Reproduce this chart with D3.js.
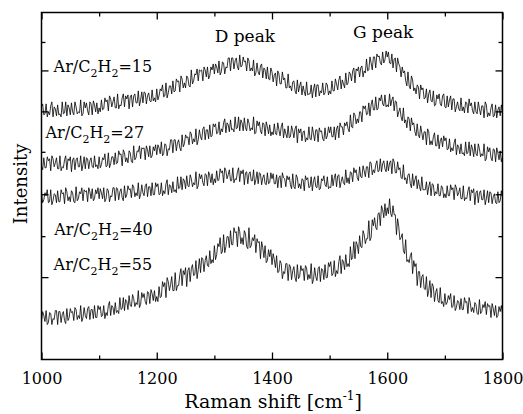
<!DOCTYPE html>
<html>
<head>
<meta charset="utf-8">
<script src="https://cdn.jsdelivr.net/npm/d3@7"></script>
<style>
  html, body { margin: 0; padding: 0; background: #fff; }
  svg { display: block; }
</style>
</head>
<body>
<svg id="chart" width="523" height="414"></svg>
<script>
// ---- data (Raman spectra, read every 2 cm^-1 from 1000 to 1800) ----
const wavenumbers = d3.range(1000, 1801, 2);

const series15 = [
  253,256,245,246,256,243,248,245,254,258,243,253,251,244,255,245,246,243,258,246,247,258,244,255,252,245,257,248,245,258,253,246,248,247,260,244,246,258,252,257,249,245,258,256,245,259,255,248,257,246,
  252,248,260,250,251,262,258,260,249,264,261,253,258,263,252,252,266,251,255,254,262,266,253,264,261,265,251,263,265,253,264,266,257,257,269,254,260,268,257,268,267,256,264,267,259,258,270,259,262,258,
  271,260,264,271,269,275,263,264,277,262,267,274,274,266,279,268,269,281,278,279,268,284,281,272,277,272,284,282,274,273,290,276,279,286,285,291,279,290,289,290,279,293,290,283,293,281,284,293,290,296,
  286,296,293,287,299,285,288,298,297,286,293,292,302,302,289,302,302,291,299,302,293,290,305,293,294,303,298,299,289,302,299,289,292,289,300,284,287,297,288,285,294,296,282,292,290,281,293,281,280,292,
  288,278,285,287,274,289,286,276,276,288,280,282,272,272,286,272,274,269,278,279,269,266,280,268,274,278,265,274,268,264,278,265,266,266,275,262,271,276,263,275,275,264,269,267,277,265,267,277,275,265,
  269,266,279,269,269,281,276,270,280,284,271,280,276,272,287,275,277,288,286,279,289,292,277,291,289,293,283,292,294,283,289,287,301,289,290,303,297,290,303,303,292,306,303,304,297,295,308,297,300,309,
  303,308,297,296,306,292,301,302,288,302,296,293,283,293,287,289,279,274,288,274,271,284,280,269,272,266,275,273,261,275,270,272,261,262,271,257,266,270,259,258,269,254,255,265,261,266,256,254,264,266,
  253,252,264,253,260,264,250,261,261,248,253,258,251,249,262,249,253,247,258,257,247,261,254,257,249,246,258,248,246,258,251,245,254,254,242,258,255,243,247,244,252,256,243,244,255,242,250,253,244,255,
  247
];
const series27 = [
  194,190,202,192,192,203,199,201,189,204,201,193,197,202,191,191,204,189,193,192,200,204,190,201,199,203,188,200,202,190,200,202,193,193,204,189,195,203,191,202,201,191,199,202,193,192,204,193,195,191,
  203,192,195,202,200,206,193,194,207,192,196,203,203,195,207,196,197,209,205,206,194,210,207,198,202,197,209,207,198,197,214,200,202,209,208,214,201,212,211,212,200,214,210,203,214,202,204,213,209,215,
  205,215,212,206,218,204,206,216,215,204,211,210,220,220,207,220,220,209,217,220,212,209,225,213,216,225,222,223,215,228,226,216,221,218,231,215,220,230,223,220,231,233,220,230,230,221,235,223,224,236,
  233,236,226,227,238,225,231,228,237,241,227,237,235,228,240,230,231,228,243,231,232,243,229,240,237,229,242,232,229,241,237,229,232,230,243,226,227,239,234,238,229,226,237,236,224,238,233,226,235,224,
  228,225,236,226,225,237,230,224,233,237,222,231,226,222,234,222,223,234,229,222,231,234,217,231,227,231,219,228,229,218,222,220,233,221,220,233,226,219,230,230,218,232,228,229,221,219,232,221,224,233,
  227,233,223,223,233,220,231,234,222,237,233,233,225,237,234,238,231,228,245,233,232,247,245,236,241,237,248,248,238,254,251,254,245,246,257,244,255,260,250,250,263,250,251,262,259,265,256,254,265,253,
  255,253,266,254,260,263,249,259,258,243,248,252,243,239,252,237,240,232,243,241,229,242,235,237,228,224,236,225,222,234,227,220,228,228,215,231,228,215,219,215,223,227,214,214,225,211,219,222,213,224,
  219,222,210,211,221,208,212,209,217,221,205,215,213,206,216,206,207,204,218,206,207,218,204,215,211,203,216,206,204,216,211,203,206,204,216,199,201,213,208,212,202,199,211,210,198,212,207,200,209,198,
  203
];
const series40 = [
  168,157,160,167,164,170,157,158,170,155,159,166,165,157,169,158,158,170,166,167,156,172,168,159,163,158,169,167,158,157,173,159,161,168,166,172,159,170,168,169,158,172,168,161,171,159,161,170,166,172,
  161,171,167,161,172,158,161,171,169,158,164,163,172,172,159,172,171,160,168,171,162,159,174,162,165,174,170,171,162,175,173,163,167,164,177,161,165,175,167,164,174,176,163,173,173,164,177,165,165,177,
  173,176,165,166,177,164,169,166,176,180,165,175,174,167,178,168,170,167,183,171,172,183,170,181,179,171,184,174,173,185,181,173,177,175,188,171,174,186,181,185,177,174,186,185,174,188,184,177,186,175,
  181,177,189,179,180,191,187,189,177,192,189,181,185,190,179,179,192,177,181,180,188,192,178,189,186,190,175,187,188,176,186,188,179,179,190,175,180,188,176,187,186,175,182,185,176,175,187,176,177,187,
  181,186,176,176,185,172,182,184,172,187,182,181,173,184,180,183,175,171,186,173,171,185,182,172,176,171,181,180,169,184,180,182,172,173,183,169,179,183,173,172,184,170,171,181,179,184,175,173,183,171,
  173,172,185,174,182,186,173,184,185,172,178,183,177,175,190,177,182,176,188,187,178,192,187,190,182,179,193,183,182,194,189,183,193,193,182,198,197,185,190,187,195,199,188,189,201,188,196,199,191,188,
  199,189,197,199,186,201,198,187,187,198,190,192,182,181,195,180,182,176,185,186,176,172,186,174,180,184,171,180,173,169,183,170,170,170,178,165,173,178,164,176,175,164,168,166,176,164,164,174,172,162,
  166,162,174,164,164,175,170,172,160,175,172,164,167,172,161,161,174,159,162,161,169,173,159,170,167,171,155,167,169,157,167,169,160,160,170,155,161,169,157,168,167,156,163,166,157,156,168,157,159,169,
  162
];
const series55 = [
  38,48,44,38,49,35,37,47,46,35,41,40,49,49,35,48,48,37,45,48,39,36,51,39,42,51,47,48,39,52,50,40,44,41,54,38,42,52,44,41,51,53,40,50,50,41,54,42,42,54,
  50,53,43,44,54,41,47,44,54,58,44,54,52,45,57,47,49,46,62,50,51,62,49,60,58,50,64,54,53,65,61,53,57,55,69,52,55,67,62,66,58,55,68,67,56,70,66,59,69,58,
  63,58,73,62,63,78,73,77,62,82,78,69,75,83,69,69,87,69,74,74,85,91,74,89,85,92,73,89,92,78,91,95,84,85,99,81,90,101,87,102,101,88,99,104,94,93,109,96,100,97,
  114,100,105,116,113,122,106,108,125,107,113,123,123,112,129,115,115,132,127,128,113,133,128,116,122,115,129,126,113,111,132,112,114,122,119,125,107,121,117,118,101,118,112,102,114,97,99,110,103,110,
  95,106,100,92,104,87,88,99,96,81,88,86,96,96,79,95,93,80,89,93,82,78,95,81,83,94,89,91,79,94,92,80,85,81,96,76,80,92,83,79,91,93,78,91,90,80,95,82,82,97,
  93,98,84,86,99,83,89,86,98,104,86,100,98,90,105,93,96,93,113,100,102,118,101,118,115,106,124,113,112,129,125,116,121,121,139,119,122,140,134,142,132,130,146,147,134,154,150,142,156,144,
  152,146,161,146,143,154,145,145,125,141,133,120,122,126,109,106,120,98,100,97,104,107,86,99,93,96,74,88,88,72,83,85,71,70,83,63,69,79,62,76,73,58,67,71,59,57,72,56,58,53,
  66,55,57,64,60,66,52,53,64,49,52,59,58,50,61,50,50,62,57,58,46,62,57,48,52,47,57,55,46,45,60,46,48,55,52,58,45,56,53,54,42,56,51,44,54,42,44,53,48,54,
  46
];

const seriesList = [series15, series27, series40, series55];
seriesList.forEach((s, k) => {
  if (s.length !== wavenumbers.length) throw new Error("series " + k + " has " + s.length + " values");
});

const xTicksMajor = [1000, 1200, 1400, 1600, 1800];
const xTicksMinor = [1100, 1300, 1500, 1700];
const yTicksMajor = [82.5, 165.5, 248.5, 289.5];
const yTicksMinor = [123.5, 208, 318];

const peakLabels = [
  { text: "D peak", x: 1353, y: 318 },
  { text: "G peak", x: 1593, y: 322 }
];
const ratioLabels = [
  { value: "15", x: 1021, y: 288 },
  { value: "27", x: 1007, y: 222 },
  { value: "40", x: 1022, y: 125 },
  { value: "55", x: 1021, y: 90 }
];

// ---- layout ----
const FONT = "DejaVu Serif";
const svg = d3.select("#chart");
const margin = { left: 41.5, top: 12.5, right: 20.5, bottom: 54.5 };
const W = 523, H = 414;
const x = d3.scaleLinear().domain([1000, 1800]).range([margin.left, W - margin.right]);
const y = d3.scaleLinear().domain([0, 347.5]).range([H - margin.bottom, margin.top]);

// spectra
const line = d3.line().x((d, i) => x(wavenumbers[i])).y(d => y(d));
const gLines = svg.append("g");
seriesList.forEach(s => {
  gLines.append("path")
    .datum(s)
    .attr("d", line)
    .attr("fill", "none")
    .attr("stroke", "#000")
    .attr("stroke-width", 0.8)
    .attr("stroke-linejoin", "miter");
});

// axes (ticks inward)
function styleAxis(g) {
  g.select(".domain").remove();
  g.selectAll("line").attr("stroke", "#000").attr("stroke-width", 1.3);
}
svg.append("g").attr("transform", `translate(0,${H - margin.bottom})`)
  .call(d3.axisBottom(x).tickValues(xTicksMajor).tickSizeInner(-7).tickSizeOuter(0).tickPadding(13).tickFormat(d3.format("d")))
  .call(styleAxis)
  .call(g => g.attr("font-family", FONT).selectAll("text").attr("font-size", 16).attr("font-family", FONT).attr("fill", "#000"));
svg.append("g").attr("transform", `translate(0,${H - margin.bottom})`)
  .call(d3.axisBottom(x).tickValues(xTicksMinor).tickSizeInner(-4).tickSizeOuter(0).tickFormat(""))
  .call(styleAxis);
svg.append("g").attr("transform", `translate(0,${margin.top})`)
  .call(d3.axisTop(x).tickValues(xTicksMajor).tickSizeInner(-7).tickSizeOuter(0).tickFormat(""))
  .call(styleAxis);
svg.append("g").attr("transform", `translate(0,${margin.top})`)
  .call(d3.axisTop(x).tickValues(xTicksMinor).tickSizeInner(-4).tickSizeOuter(0).tickFormat(""))
  .call(styleAxis);
svg.append("g").attr("transform", `translate(${margin.left},0)`)
  .call(d3.axisLeft(y).tickValues(yTicksMajor).tickSizeInner(-7).tickSizeOuter(0).tickFormat(""))
  .call(styleAxis);
svg.append("g").attr("transform", `translate(${margin.left},0)`)
  .call(d3.axisLeft(y).tickValues(yTicksMinor).tickSizeInner(-4).tickSizeOuter(0).tickFormat(""))
  .call(styleAxis);
svg.append("g").attr("transform", `translate(${W - margin.right},0)`)
  .call(d3.axisRight(y).tickValues(yTicksMajor).tickSizeInner(-7).tickSizeOuter(0).tickFormat(""))
  .call(styleAxis);
svg.append("g").attr("transform", `translate(${W - margin.right},0)`)
  .call(d3.axisRight(y).tickValues(yTicksMinor).tickSizeInner(-4).tickSizeOuter(0).tickFormat(""))
  .call(styleAxis);

// frame
svg.append("rect")
  .attr("x", margin.left).attr("y", margin.top)
  .attr("width", W - margin.left - margin.right)
  .attr("height", H - margin.top - margin.bottom)
  .attr("fill", "none").attr("stroke", "#000").attr("stroke-width", 1.5);

// axis titles
const xt = svg.append("text")
  .attr("x", (x(1000) + x(1800)) / 2 + 1).attr("y", 408)
  .attr("text-anchor", "middle").attr("font-size", 19).attr("font-family", FONT);
xt.append("tspan").text("Raman shift [cm");
xt.append("tspan").attr("font-size", 12).attr("dy", -8).text("-1");
xt.append("tspan").attr("dy", 8).text("]");

svg.append("text")
  .attr("transform", `translate(27,${(margin.top + H - margin.bottom) / 2 - 2}) rotate(-90)`)
  .attr("text-anchor", "middle").attr("font-size", 18).attr("font-family", FONT)
  .text("Intensity");

// peak labels
peakLabels.forEach(p => {
  svg.append("text").attr("x", x(p.x)).attr("y", y(p.y))
    .attr("text-anchor", "middle").attr("font-size", 17).attr("font-family", FONT).text(p.text);
});

// ratio labels
ratioLabels.forEach(r => {
  const t = svg.append("text").attr("x", x(r.x)).attr("y", y(r.y))
    .attr("font-size", 16).attr("font-family", FONT);
  t.append("tspan").text("Ar/C");
  t.append("tspan").attr("font-size", 11).attr("dy", 5).text("2");
  t.append("tspan").attr("dy", -5).text("H");
  t.append("tspan").attr("font-size", 11).attr("dy", 5).text("2");
  t.append("tspan").attr("dy", -5).text("=" + r.value);
});
</script>
</body>
</html>
